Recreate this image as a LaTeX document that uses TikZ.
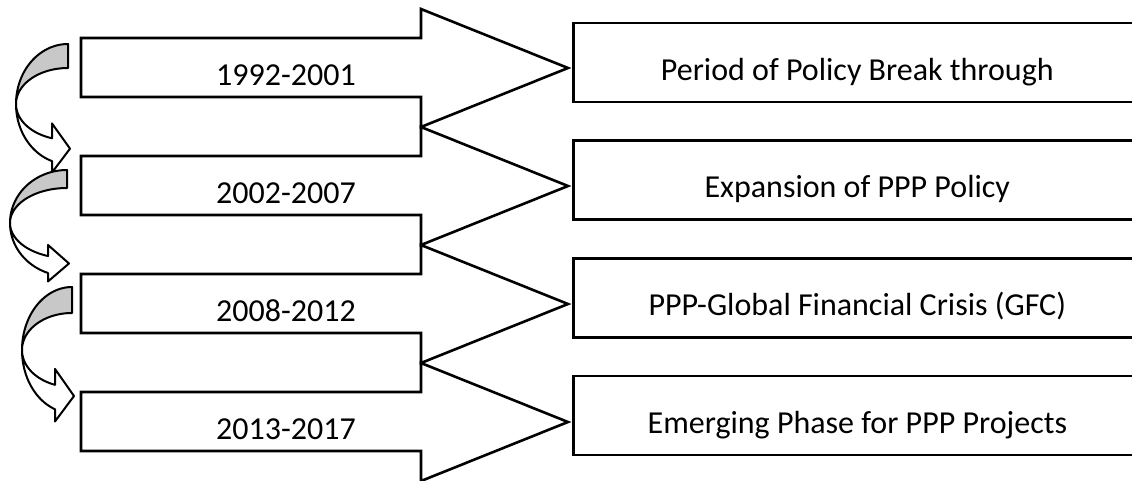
\documentclass[tikz,border=0pt]{standalone}
\usepackage{fontspec}
\setmainfont{Carlito}
\begin{document}
\begin{tikzpicture}[x=1pt, y=-1pt, line join=miter,
  outline/.style={draw=black, line width=2.6pt},
  curveline/.style={draw=black, line width=2pt, line join=round},
  labelfont/.style={font=\fontsize{32}{36}\selectfont},
  stagebox/.style={outline, fill=white, rectangle, anchor=west,
    minimum width=568pt, minimum height=79pt, inner sep=0pt,
    text height=35pt, text depth=0pt, labelfont},
  yearlabel/.style={inner sep=0pt, text height=35pt, text depth=0pt, labelfont},
]
\useasboundingbox (0,0) rectangle (1132,480);
\clip (0,0) rectangle (1132,480);

% period boxes on the right
\foreach \i/\txt in {0/Period of Policy Break through,
                     1/Expansion of PPP Policy,
                     2/PPP-Global Financial Crisis (GFC),
                     3/Emerging Phase for PPP Projects}{
  \node[stagebox] (stage\i) at (572, {62.5+117.7*\i}) {\txt};
}

% block arrows with the year ranges
\foreach \i/\yr in {0/1992-2001, 1/2002-2007, 2/2008-2012, 3/2013-2017}{
  \pgfmathsetmacro{\cy}{68+118*\i}
  \draw[outline, fill=white]
    (81,\cy-30) -- (421,\cy-30) -- (421,\cy-59) -- (568,\cy)
    -- (421,\cy+59) -- (421,\cy+29) -- (81,\cy+29) -- cycle;
  \node[yearlabel] (year\i) at (286,\cy) {\yr};
}

% curved arrows leading from one period to the next
\foreach \rr/\cc/\rx/\ro/\ri/\xj in {68/104/52/60/36/52,
                                     67/223/57/53/35/48,
                                     72/350/50/63/37/55}{
  \pgfmathsetmacro{\aj}{acos((\xj-\rr)/\rx)}
  \pgfmathsetmacro{\yo}{\cc+\ro*sin(\aj)}
  \pgfmathsetmacro{\yi}{\cc+\ri*sin(\aj)}
  \pgfmathsetmacro{\ym}{(\yo+\yi)/2}
  \pgfmathsetmacro{\w}{\yo-\yi}
  % shaded back of the bend
  \draw[curveline, fill={rgb,255:red,200;green,200;blue,200}]
    plot[domain=270:180, samples=40] ({\rr+\rx*cos(\x)}, {\cc+\ro*sin(\x)})
    -- plot[domain=180:270, samples=40] ({\rr+\rx*cos(\x)}, {\cc+\ri*sin(\x)})
    -- cycle;
  % front of the bend with its head
  \draw[curveline, fill=white]
    plot[domain=180:\aj, samples=40] ({\rr+\rx*cos(\x)}, {\cc+\ro*sin(\x)})
    -- (\xj, \ym+\w) -- (\rr+2, \ym-1) -- (\xj, \ym-1.15*\w)
    -- plot[domain=\aj:180, samples=40] ({\rr+\rx*cos(\x)}, {\cc+\ri*sin(\x)})
    -- cycle;
}
\end{tikzpicture}
\end{document}
